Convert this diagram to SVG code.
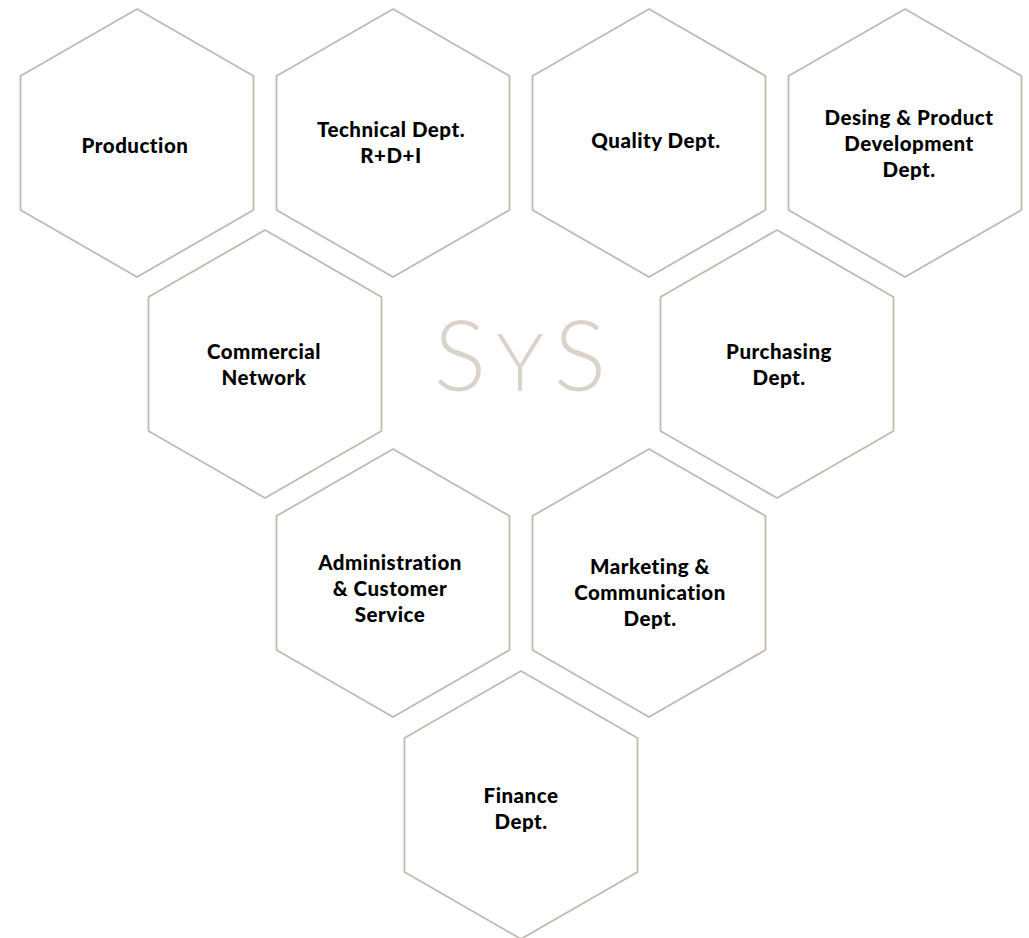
<svg xmlns="http://www.w3.org/2000/svg" width="1029" height="938" viewBox="0 0 1029 938">
<defs>
<style>
.hex{fill:#ffffff;stroke:#c5b9af;stroke-width:1.8}
.lbl{font-family:Lato,"Liberation Sans",sans-serif;font-weight:900;font-size:20.5px;letter-spacing:0.5px;fill:#000;text-anchor:middle}
.logo{font-family:Lato,"Liberation Sans",sans-serif;font-weight:300;fill:#d9d3cc;text-anchor:middle;letter-spacing:10px}
</style>
<polygon id="hx" points="0,-134 116.5,-67 116.5,67 0,134 -116.5,67 -116.5,-67"/>
</defs>
<rect width="1029" height="938" fill="#ffffff"/>
<g id="production"><use href="#hx" class="hex" x="137" y="143"/><text class="lbl" x="135" y="153">Production</text></g>
<g id="technical"><use href="#hx" class="hex" x="393" y="143"/><text class="lbl" x="391" y="137">Technical Dept.</text><text class="lbl" x="391" y="163">R+D+I</text></g>
<g id="quality"><use href="#hx" class="hex" x="649" y="143"/><text class="lbl" x="656" y="148">Quality Dept.</text></g>
<g id="design"><use href="#hx" class="hex" x="905" y="143"/><text class="lbl" x="909" y="125">Desing &amp; Product</text><text class="lbl" x="909" y="151">Development</text><text class="lbl" x="909" y="177">Dept.</text></g>
<g id="commercial"><use href="#hx" class="hex" x="265" y="364"/><text class="lbl" x="264" y="359">Commercial</text><text class="lbl" x="264" y="385">Network</text></g>
<g id="purchasing"><use href="#hx" class="hex" x="777" y="364"/><text class="lbl" x="779" y="359">Purchasing</text><text class="lbl" x="779" y="385">Dept.</text></g>
<g id="administration"><use href="#hx" class="hex" x="393" y="583"/><text class="lbl" x="390" y="570">Administration</text><text class="lbl" x="390" y="596">&amp; Customer</text><text class="lbl" x="390" y="622">Service</text></g>
<g id="marketing"><use href="#hx" class="hex" x="649" y="583"/><text class="lbl" x="650" y="574">Marketing &amp;</text><text class="lbl" x="650" y="600">Communication</text><text class="lbl" x="650" y="626">Dept.</text></g>
<g id="finance"><use href="#hx" class="hex" x="521" y="805"/><text class="lbl" x="521" y="803">Finance</text><text class="lbl" x="521" y="829">Dept.</text></g>
<g id="logo"><text class="logo" x="525" y="391" font-size="98">S<tspan font-size="80">Y</tspan>S</text></g>
<g id="connectors"></g>
</svg>
